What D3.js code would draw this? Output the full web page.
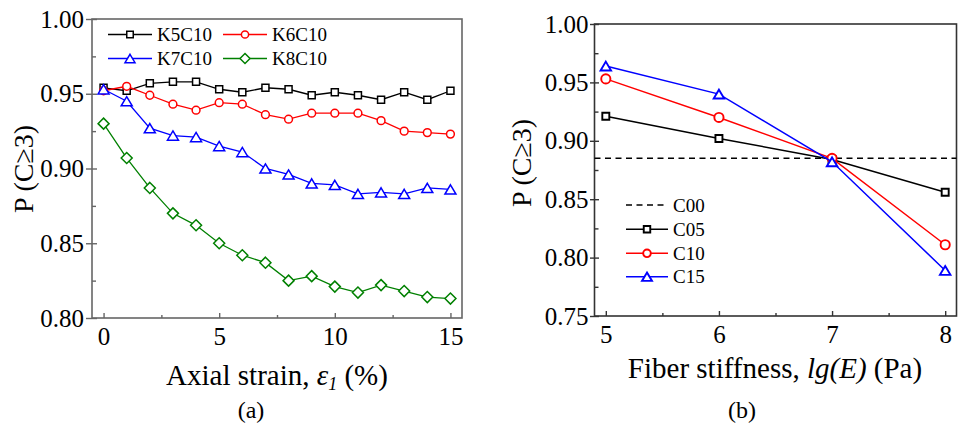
<!DOCTYPE html>
<html>
<head>
<meta charset="utf-8">
<script src="https://cdn.jsdelivr.net/npm/d3@7"></script>
<style>
  body { margin: 0; background: #fff; }
</style>
</head>
<body>
<svg id="chart" width="959" height="426" font-family="Liberation Serif"></svg>
<script>
// panel (a): P(C>=3) vs axial strain
var strainPct = [0, 1, 2, 3, 4, 5, 6, 7, 8, 9, 10, 11, 12, 13, 14, 15];
var k5c10 = [0.954, 0.952, 0.957, 0.958, 0.958, 0.953, 0.951, 0.954, 0.953, 0.949, 0.951, 0.949, 0.946, 0.951, 0.946, 0.952];
var k6c10 = [0.952, 0.955, 0.949, 0.943, 0.939, 0.944, 0.943, 0.936, 0.933, 0.937, 0.937, 0.937, 0.932, 0.925, 0.924, 0.923];
var k7c10 = [0.953, 0.945, 0.927, 0.922, 0.921, 0.915, 0.911, 0.900, 0.896, 0.890, 0.889, 0.883, 0.884, 0.883, 0.887, 0.886];
var k8c10 = [0.930, 0.907, 0.887, 0.870, 0.862, 0.850, 0.842, 0.837, 0.825, 0.828, 0.821, 0.817, 0.822, 0.818, 0.814, 0.813];
var strainTicks = [0, 5, 10, 15];
var strainMinor = [2.5, 7.5, 12.5];
var pTicksA = [0.80, 0.85, 0.90, 0.95, 1.00];
var pMinorA = [0.825, 0.875, 0.925, 0.975];

// panel (b): P(C>=3) vs fiber stiffness
var lgE = [5, 6, 7, 8];
var c00 = 0.885;
var c05 = [0.921, 0.902, 0.884, 0.856];
var c10 = [0.953, 0.920, 0.885, 0.811];
var c15 = [0.964, 0.940, 0.882, 0.789];
var lgETicks = [5, 6, 7, 8];
var lgEMinor = [5.5, 6.5, 7.5];
var pTicksB = [0.75, 0.80, 0.85, 0.90, 0.95, 1.00];
var pMinorB = [0.775, 0.825, 0.875, 0.925, 0.975];

var FONT = "Liberation Serif";
var svg = d3.select("#chart");

function marker(g, type, size, color, sw) {
  var s = size;
  if (type === "circle") {
    return g.append("circle").attr("r", s).attr("fill", "#fff")
      .attr("stroke", color).attr("stroke-width", sw);
  }
  var d;
  if (type === "square") d = `M${-s / 2},${-s / 2}h${s}v${s}h${-s}Z`;
  if (type === "triangle") d = `M0,${-s * 0.42}L${s / 2},${s * 0.42}L${-s / 2},${s * 0.42}Z`;
  if (type === "diamond") d = `M0,${-s}L${s},0L0,${s}L${-s},0Z`;
  return g.append("path").attr("d", d).attr("fill", "#fff")
    .attr("stroke", color).attr("stroke-width", sw);
}

function drawPanel(opt) {
  var x = d3.scaleLinear().domain(opt.xDomain).range([opt.left, opt.right]);
  var y = d3.scaleLinear().domain(opt.yDomain).range([opt.bottom, opt.top]);
  var g = svg.append("g");

  // axes
  var yAxis = g.append("g")
    .attr("transform", `translate(${opt.left},0)`)
    .call(d3.axisLeft(y).tickValues(opt.yTicks).tickSize(opt.tickOut)
      .tickSizeOuter(0).tickPadding(opt.yPad).tickFormat(d3.format(".2f")));
  yAxis.selectAll(".tick line").attr("x1", opt.tickIn);

  g.append("g")
    .attr("transform", `translate(${opt.left},0)`)
    .call(d3.axisLeft(y).tickValues(opt.yMinor).tickSize(-4).tickSizeOuter(0).tickFormat(""));

  g.append("g")
    .attr("transform", `translate(0,${opt.bottom})`)
    .call(d3.axisBottom(x).tickValues(opt.xTicks).tickSize(-5)
      .tickSizeOuter(0).tickPadding(9).tickFormat(d3.format("d")));

  g.append("g")
    .attr("transform", `translate(0,${opt.bottom})`)
    .call(d3.axisBottom(x).tickValues(opt.xMinor).tickSize(-3).tickSizeOuter(0).tickFormat(""));

  g.selectAll(".domain").remove();
  g.selectAll(".tick line").attr("stroke", opt.frame).attr("stroke-width", 1.4);
  g.selectAll("g").attr("font-family", FONT).attr("font-size", 25);
  g.selectAll(".tick text").attr("font-family", FONT).attr("font-size", 25).attr("fill", "#000");

  g.append("rect")
    .attr("x", opt.left).attr("y", opt.top)
    .attr("width", opt.right - opt.left).attr("height", opt.bottom - opt.top)
    .attr("fill", "none").attr("stroke", opt.frame).attr("stroke-width", 1.6);

  // reference lines
  (opt.hlines || []).forEach(function (h) {
    g.append("line")
      .attr("x1", opt.left).attr("x2", opt.right)
      .attr("y1", y(h.value)).attr("y2", y(h.value))
      .attr("stroke", h.color).attr("stroke-width", 1.5)
      .attr("stroke-dasharray", "6,4.5");
  });

  // series
  var line = d3.line().x(d => x(d[0])).y(d => y(d[1]));
  opt.series.forEach(function (s) {
    var pts = opt.xs.map((v, i) => [v, s.values[i]]);
    g.append("path").datum(pts).attr("d", line)
      .attr("fill", "none").attr("stroke", s.color).attr("stroke-width", opt.lineW);
    pts.forEach(function (p) {
      var m = g.append("g").attr("transform", `translate(${x(p[0])},${y(p[1])})`);
      marker(m, s.type, s.size, s.color, opt.markW);
    });
  });

  // legend
  opt.legend.forEach(function (l) {
    var lg = g.append("g");
    lg.append("line")
      .attr("x1", l.x0).attr("x2", l.x1).attr("y1", l.y).attr("y2", l.y)
      .attr("stroke", l.color).attr("stroke-width", opt.lineW)
      .attr("stroke-dasharray", l.type ? null : "6,4.5");
    if (l.type) {
      var m = lg.append("g").attr("transform", `translate(${(l.x0 + l.x1) / 2},${l.y})`);
      marker(m, l.type, l.size, l.color, opt.markW);
    }
    lg.append("text")
      .attr("x", l.x1 + 5).attr("y", l.y).attr("dy", "0.35em")
      .attr("font-family", FONT).attr("font-size", 19).text(l.label);
  });

  // y title
  g.append("text")
    .attr("transform", `translate(${opt.yTitleX},${opt.yTitleY}) rotate(-90)`)
    .attr("text-anchor", "middle").attr("font-family", FONT).attr("font-size", 28)
    .text("P (C\u22653)");

  return { g, x, y };
}

// ---- panel (a)
var seriesA = [
  { values: k5c10, color: "#000000", type: "square", size: 7 },
  { values: k6c10, color: "#ff0000", type: "circle", size: 3.9 },
  { values: k7c10, color: "#0000ff", type: "triangle", size: 11 },
  { values: k8c10, color: "#008000", type: "diamond", size: 5.5 }
];
var legA = [
  { label: "K5C10", color: "#000000", type: "square", size: 6.5, x0: 108, x1: 152, y: 34.5 },
  { label: "K6C10", color: "#ff0000", type: "circle", size: 3.6, x0: 223, x1: 267, y: 34.5 },
  { label: "K7C10", color: "#0000ff", type: "triangle", size: 10, x0: 108, x1: 152, y: 58.5 },
  { label: "K8C10", color: "#008000", type: "diamond", size: 5, x0: 223, x1: 267, y: 58.5 }
];
var pa = drawPanel({
  left: 92, right: 462, top: 19, bottom: 318,
  xDomain: [-0.5, 15.5], yDomain: [0.80, 1.00],
  xTicks: strainTicks, xMinor: strainMinor, yTicks: pTicksA, yMinor: pMinorA,
  tickOut: 6, tickIn: 5, yPad: 2, frame: "#666",
  xs: strainPct, series: seriesA, legend: legA,
  lineW: 1.3, markW: 1.5, yTitleX: 33, yTitleY: 169
});

var xt = pa.g.append("text")
  .attr("x", 277).attr("y", 385).attr("text-anchor", "middle")
  .attr("font-family", FONT).attr("font-size", 29);
xt.append("tspan").text("Axial strain, ");
xt.append("tspan").attr("font-style", "italic").text("\u03b5");
xt.append("tspan").attr("font-style", "italic").attr("font-size", 18).attr("dy", 5).text("1");
xt.append("tspan").attr("dy", -5).text(" (%)");

pa.g.append("text")
  .attr("x", 251).attr("y", 418).attr("text-anchor", "middle")
  .attr("font-family", FONT).attr("font-size", 24).text("(a)");

// ---- panel (b)
var seriesB = [
  { values: c05, color: "#000000", type: "square", size: 7 },
  { values: c10, color: "#ff0000", type: "circle", size: 4.6 },
  { values: c15, color: "#0000ff", type: "triangle", size: 10.5 }
];
var legB = [
  { label: "C00", color: "#000000", type: null, x0: 626, x1: 668, y: 205 },
  { label: "C05", color: "#000000", type: "square", size: 6.5, x0: 626, x1: 668, y: 229.3 },
  { label: "C10", color: "#ff0000", type: "circle", size: 3.8, x0: 626, x1: 668, y: 253.3 },
  { label: "C15", color: "#0000ff", type: "triangle", size: 10, x0: 626, x1: 668, y: 276.7 }
];
var pb = drawPanel({
  left: 594.5, right: 956.5, top: 24, bottom: 316,
  xDomain: [4.9, 8.1], yDomain: [0.75, 1.00],
  xTicks: lgETicks, xMinor: lgEMinor, yTicks: pTicksB, yMinor: pMinorB,
  tickOut: 4.5, tickIn: 4.5, yPad: 1.5, frame: "#333",
  xs: lgE, series: seriesB, legend: legB,
  hlines: [{ value: c00, color: "#000000" }],
  lineW: 1.5, markW: 1.9, yTitleX: 531, yTitleY: 163
});

var xt2 = pb.g.append("text")
  .attr("x", 775).attr("y", 378).attr("text-anchor", "middle")
  .attr("font-family", FONT).attr("font-size", 29);
xt2.append("tspan").text("Fiber stiffness, ");
xt2.append("tspan").attr("font-style", "italic").text("lg(E)");
xt2.append("tspan").text(" (Pa)");

pb.g.append("text")
  .attr("x", 742).attr("y", 418).attr("text-anchor", "middle")
  .attr("font-family", FONT).attr("font-size", 24).text("(b)");
</script>
</body>
</html>
